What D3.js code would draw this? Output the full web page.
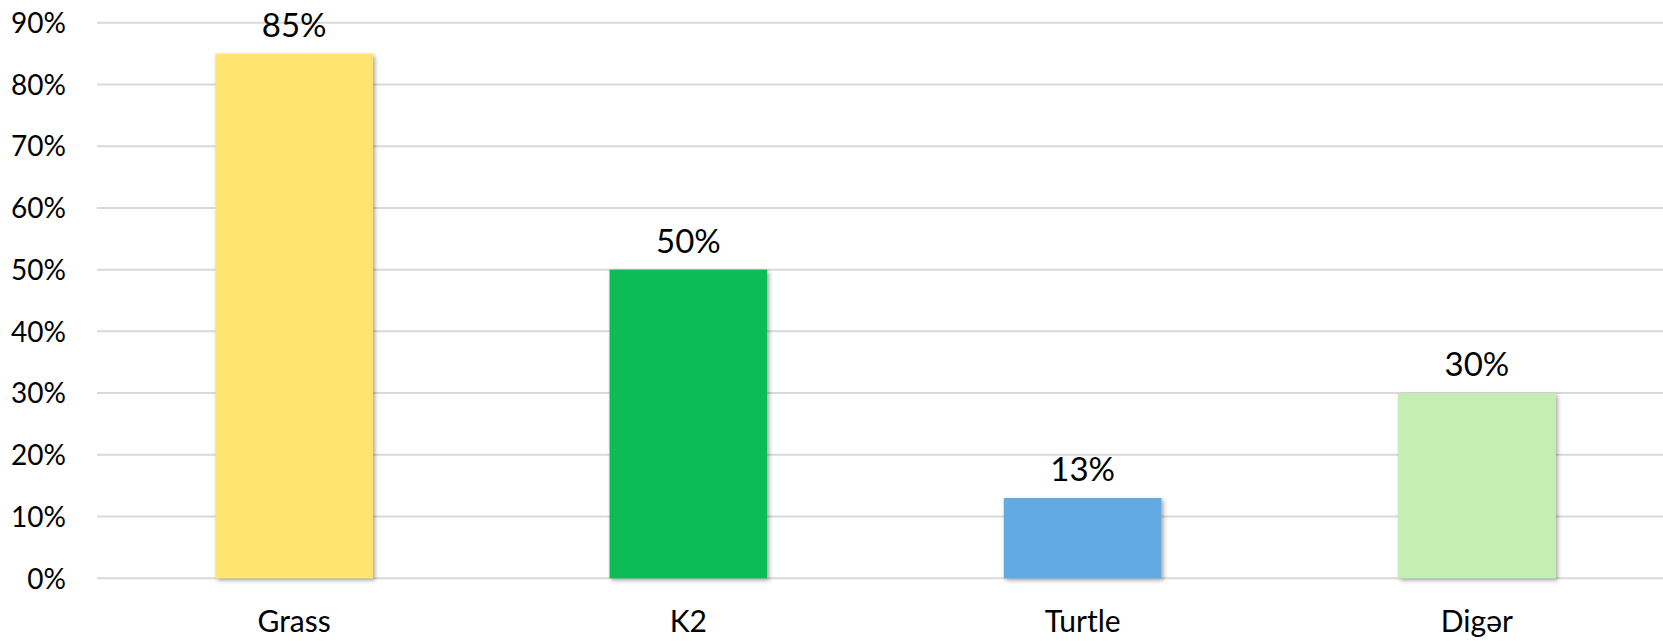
<!DOCTYPE html>
<html>
<head>
<meta charset="utf-8">
<script src="https://cdn.jsdelivr.net/npm/d3@7"></script>
<style>
  html, body { margin: 0; padding: 0; background: #fff; }
  svg { display: block; }
  text { font-family: Lato, "Open Sans", sans-serif; fill: #000; }
</style>
</head>
<body>
<svg id="chart" width="1663" height="641"></svg>
<script>
// Share of respondents per brand
const categories = ["Grass", "K2", "Turtle", "Digər"];
const values = [0.85, 0.50, 0.13, 0.30];
const valueLabels = ["85%", "50%", "13%", "30%"];
const colors = ["#FFE46F", "#08BC57", "#62AAE2", "#C4EEB4"];
const yTicks = [0, 0.1, 0.2, 0.3, 0.4, 0.5, 0.6, 0.7, 0.8, 0.9];

const W = 1663, H = 641;
const plot = { left: 97, right: 1674, top: 22.7, bottom: 578.3 };

const svg = d3.select("#chart");

const x = d3.scaleBand()
  .domain(categories)
  .range([plot.left, plot.right])
  .paddingInner(0.6)
  .paddingOuter(0.3);

const y = d3.scaleLinear()
  .domain([0, 0.9])
  .range([plot.bottom, plot.top]);

// soft drop shadow under each bar
const defs = svg.append("defs");
const f = defs.append("filter").attr("id", "barShadow")
  .attr("x", "-10%").attr("y", "-10%").attr("width", "130%").attr("height", "130%");
f.append("feDropShadow")
  .attr("dx", 2).attr("dy", 2).attr("stdDeviation", 2)
  .attr("flood-color", "#000").attr("flood-opacity", 0.35);

// horizontal gridlines
svg.append("g").selectAll("line")
  .data(yTicks)
  .join("line")
  .attr("x1", plot.left).attr("x2", W)
  .attr("y1", d => y(d)).attr("y2", d => y(d))
  .attr("stroke", "#d9d9d9").attr("stroke-width", 2);

// y axis labels
const yAxis = d3.axisLeft(y).tickValues(yTicks).tickFormat(d3.format(".0%")).tickSize(0).tickPadding(0);
const gy = svg.append("g").attr("transform", "translate(66,0)").call(yAxis);
gy.select(".domain").remove();
gy.selectAll("text")
  .attr("font-family", "Lato, sans-serif")
  .attr("font-size", 28)
  .attr("fill", "#000")
  .attr("dy", "0.35em");

// bars
svg.append("g").selectAll("rect")
  .data(categories)
  .join("rect")
  .attr("x", d => x(d))
  .attr("width", x.bandwidth())
  .attr("y", (d, i) => y(values[i]))
  .attr("height", (d, i) => y(0) - y(values[i]))
  .attr("fill", (d, i) => colors[i])
  .attr("filter", "url(#barShadow)");

// value labels above bars
svg.append("g").selectAll("text")
  .data(categories)
  .join("text")
  .attr("x", d => x(d) + x.bandwidth() / 2)
  .attr("y", (d, i) => y(values[i]) - 17)
  .attr("text-anchor", "middle")
  .attr("font-size", 33)
  .text((d, i) => valueLabels[i]);

// category axis labels
const xAxis = d3.axisBottom(x).tickSize(0).tickPadding(0);
const gx = svg.append("g").attr("transform", "translate(0,632)").call(xAxis);
gx.select(".domain").remove();
gx.selectAll("text")
  .attr("font-family", "Lato, sans-serif")
  .attr("font-size", 30)
  .attr("fill", "#000")
  .attr("dy", 0);
</script>
</body>
</html>
